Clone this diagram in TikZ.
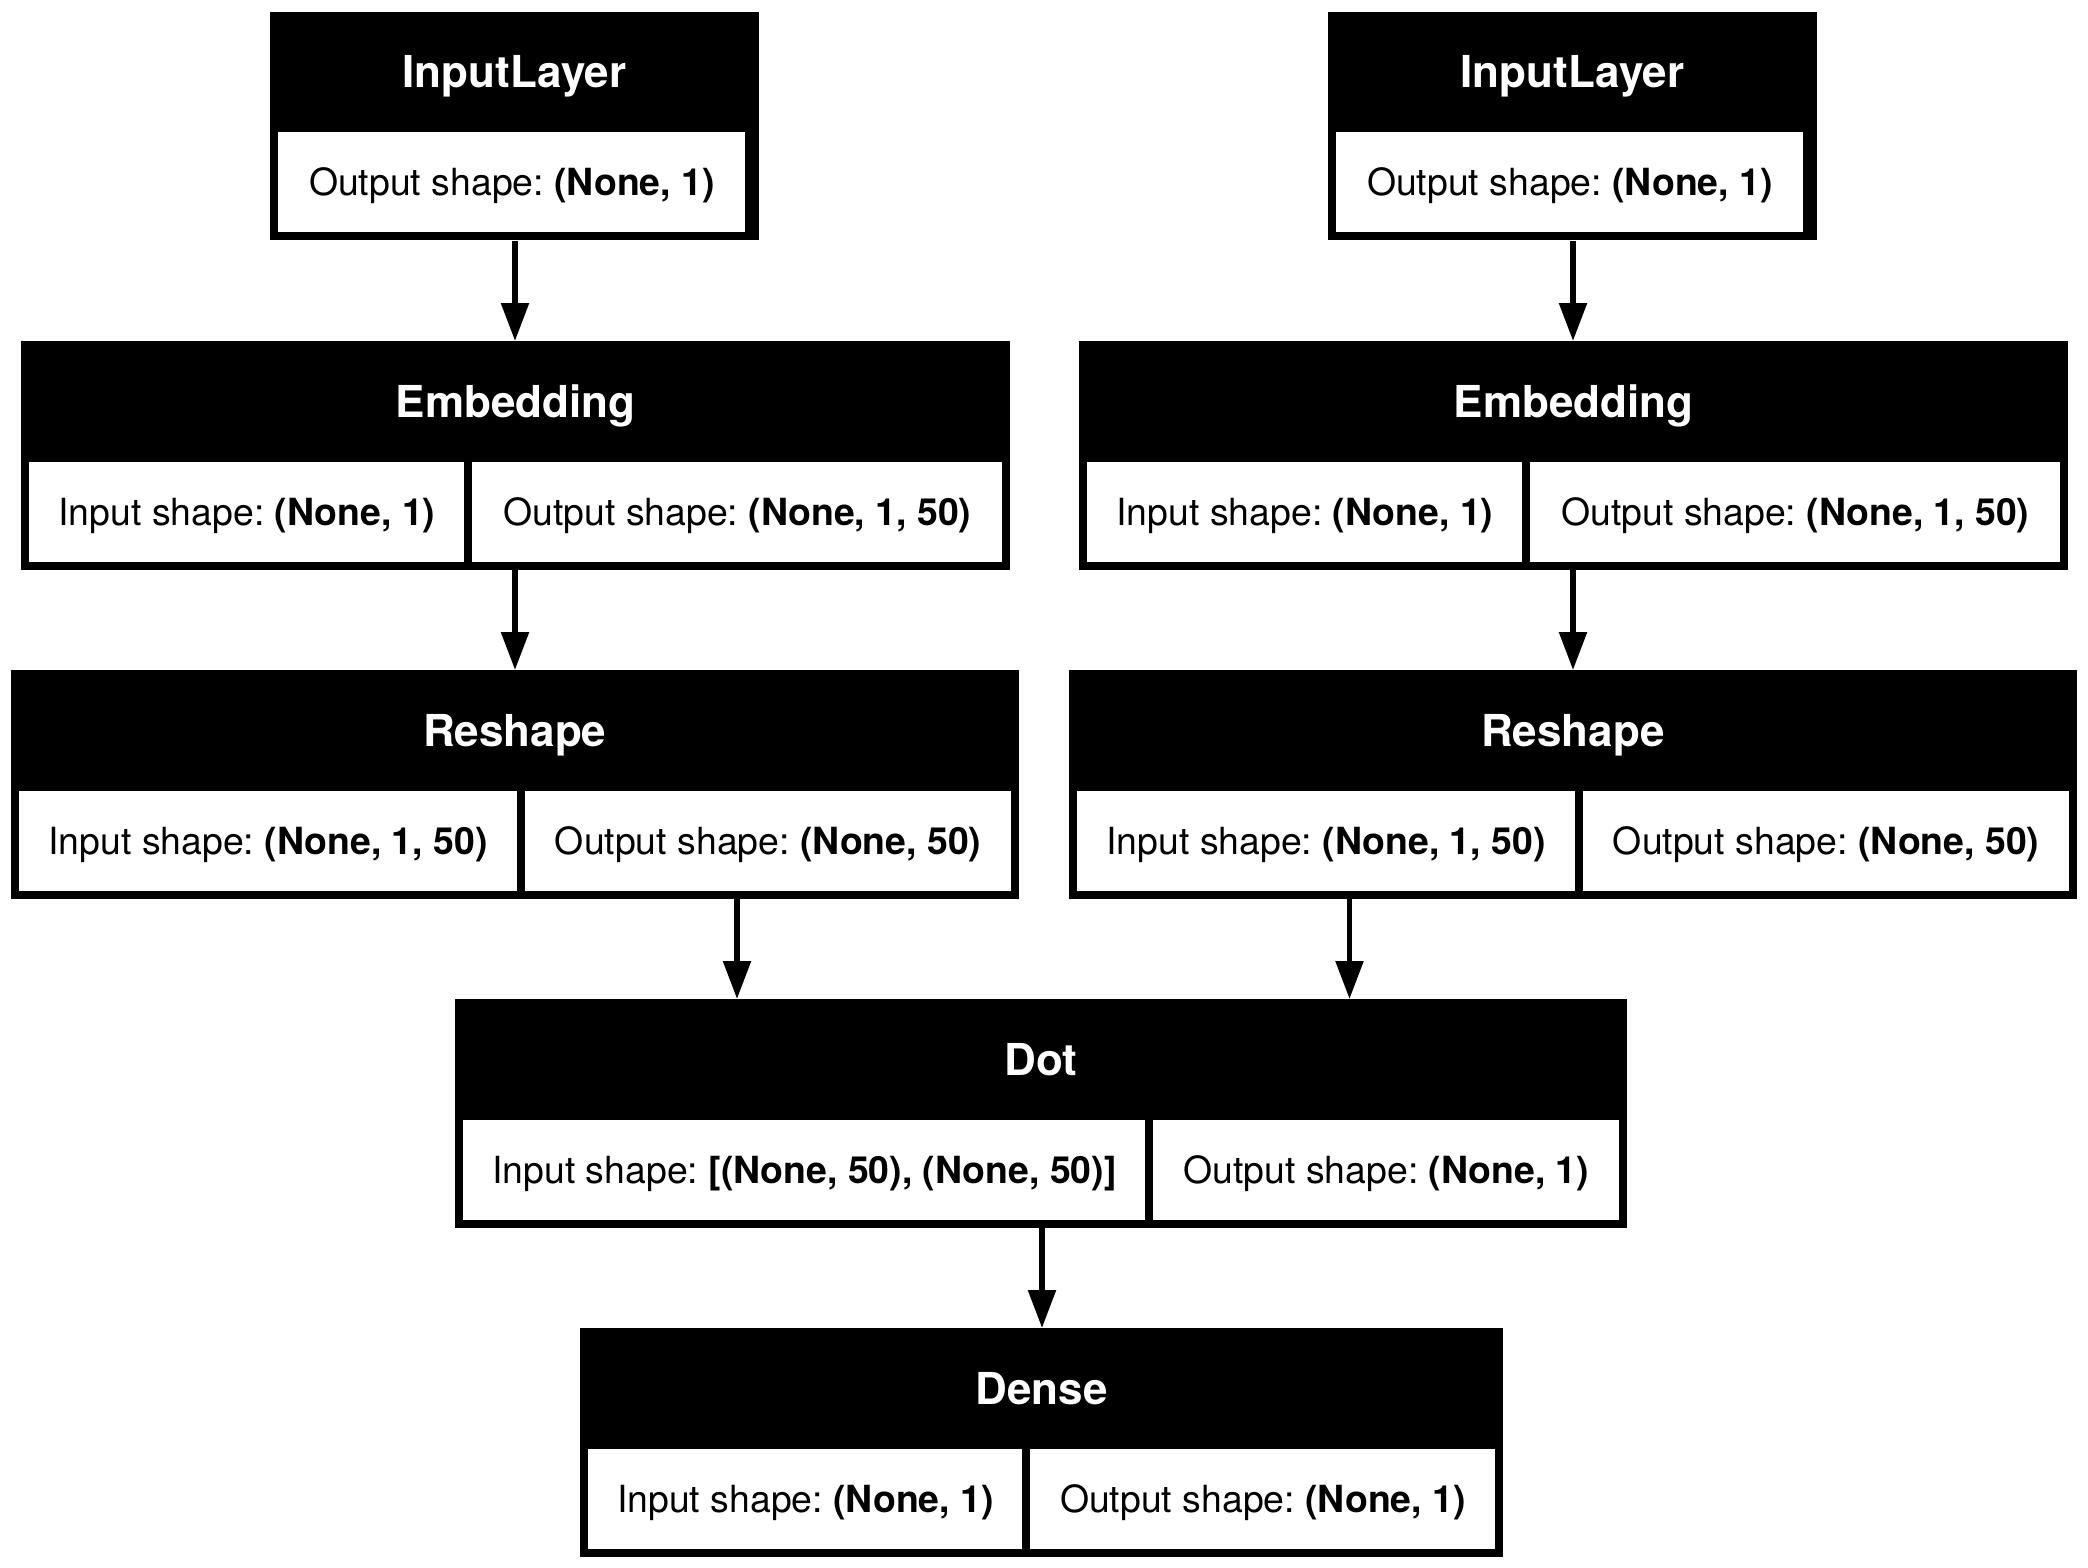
\documentclass[tikz,border=0pt]{standalone}
\usepackage{fontspec}
\setmainfont{TeX Gyre Heros}
\usetikzlibrary{arrows.meta}
\frenchspacing
\begin{document}
\begin{tikzpicture}[x=0.5pt,y=-0.5pt,
  frame/.style={fill=black,draw=none,inner sep=0pt,anchor=north west,minimum height=114.25pt},
  cellbox/.style={fill=white,draw=none,inner sep=0pt,anchor=north west,minimum height=50pt,
    font=\frenchspacing\fontsize{18.7}{22}\selectfont,text height=18pt,text depth=4.5pt},
  ttl/.style={text=white,inner sep=0pt,font=\bfseries\fontsize{22}{26}\selectfont,
    text height=20pt,text depth=4.16pt},
  conn/.style={line width=2.75pt,-{Triangle[length=19pt,width=13.5pt]}}]
\fill[white,use as bounding box] (0,0) rectangle (2088,1568);
\coordinate (xl) at (515,0);
\coordinate (xr) at (1573,0);
\coordinate (xdl) at (737,0);
\coordinate (xdr) at (1349.5,0);
\coordinate (xd) at (1042,0);
% left InputLayer
\node[frame,minimum width=244.5pt] (inl) at (270,11.5) {};
\node[ttl] (inlt) at (514.5,71.75) {InputLayer};
\node[cellbox,minimum width=233.5pt] (inlo) at (278,132) {Output shape: \textbf{(None, 1)}};
% right InputLayer
\node[frame,minimum width=244.5pt] (inr) at (1328,11.5) {};
\node[ttl] (inrt) at (1572.5,71.75) {InputLayer};
\node[cellbox,minimum width=233.5pt] (inro) at (1336,132) {Output shape: \textbf{(None, 1)}};
% left Embedding
\node[frame,minimum width=494.5pt] (embl) at (21,341) {};
\node[ttl] (emblt) at (515.5,401.25) {Embedding};
\node[cellbox,minimum width=217.5pt] (embli) at (29,461.5) {Input shape: \textbf{(None, 1)}};
\node[cellbox,minimum width=265pt] (emblo) at (472,461.5) {Output shape: \textbf{(None, 1, 50)}};
% right Embedding
\node[frame,minimum width=494.5pt] (embr) at (1079,341) {};
\node[ttl] (embrt) at (1573.5,401.25) {Embedding};
\node[cellbox,minimum width=217.5pt] (embri) at (1087,461.5) {Input shape: \textbf{(None, 1)}};
\node[cellbox,minimum width=265pt] (embro) at (1530,461.5) {Output shape: \textbf{(None, 1, 50)}};
% left Reshape
\node[frame,minimum width=504.25pt] (rsl) at (10.5,670) {};
\node[ttl] (rslt) at (514.75,730.25) {Reshape};
\node[cellbox,minimum width=249pt] (rsli) at (18.5,790.5) {Input shape: \textbf{(None, 1, 50)}};
\node[cellbox,minimum width=243.25pt] (rslo) at (524.5,790.5) {Output shape: \textbf{(None, 50)}};
% right Reshape
\node[frame,minimum width=504.25pt] (rsr) at (1068.5,670) {};
\node[ttl] (rsrt) at (1572.75,730.25) {Reshape};
\node[cellbox,minimum width=249pt] (rsri) at (1076.5,790.5) {Input shape: \textbf{(None, 1, 50)}};
\node[cellbox,minimum width=243.25pt] (rsro) at (1582.5,790.5) {Output shape: \textbf{(None, 50)}};
% Dot
\node[frame,minimum width=586pt] (dot) at (455,999) {};
\node[ttl] (dott) at (1041,1059.25) {Dot};
\node[cellbox,minimum width=341pt] (doti) at (463,1119.5) {Input shape: \textbf{[(None, 50), (None, 50)]}};
\node[cellbox,minimum width=233pt] (doto) at (1153,1119.5) {Output shape: \textbf{(None, 1)}};
% Dense
\node[frame,minimum width=461.5pt] (dense) at (580,1328) {};
\node[ttl] (denset) at (1041.5,1388.25) {Dense};
\node[cellbox,minimum width=217pt] (densei) at (588,1448.5) {Input shape: \textbf{(None, 1)}};
\node[cellbox,minimum width=232.5pt] (denseo) at (1030,1448.5) {Output shape: \textbf{(None, 1)}};
% connectors
\draw[conn] (inl.south -| xl) -- (embl.north -| xl);
\draw[conn] (inr.south -| xr) -- (embr.north -| xr);
\draw[conn] (embl.south -| xl) -- (rsl.north -| xl);
\draw[conn] (embr.south -| xr) -- (rsr.north -| xr);
\draw[conn] (rsl.south -| xdl) -- (dot.north -| xdl);
\draw[conn] (rsr.south -| xdr) -- (dot.north -| xdr);
\draw[conn] (dot.south -| xd) -- (dense.north -| xd);
\end{tikzpicture}
\end{document}
